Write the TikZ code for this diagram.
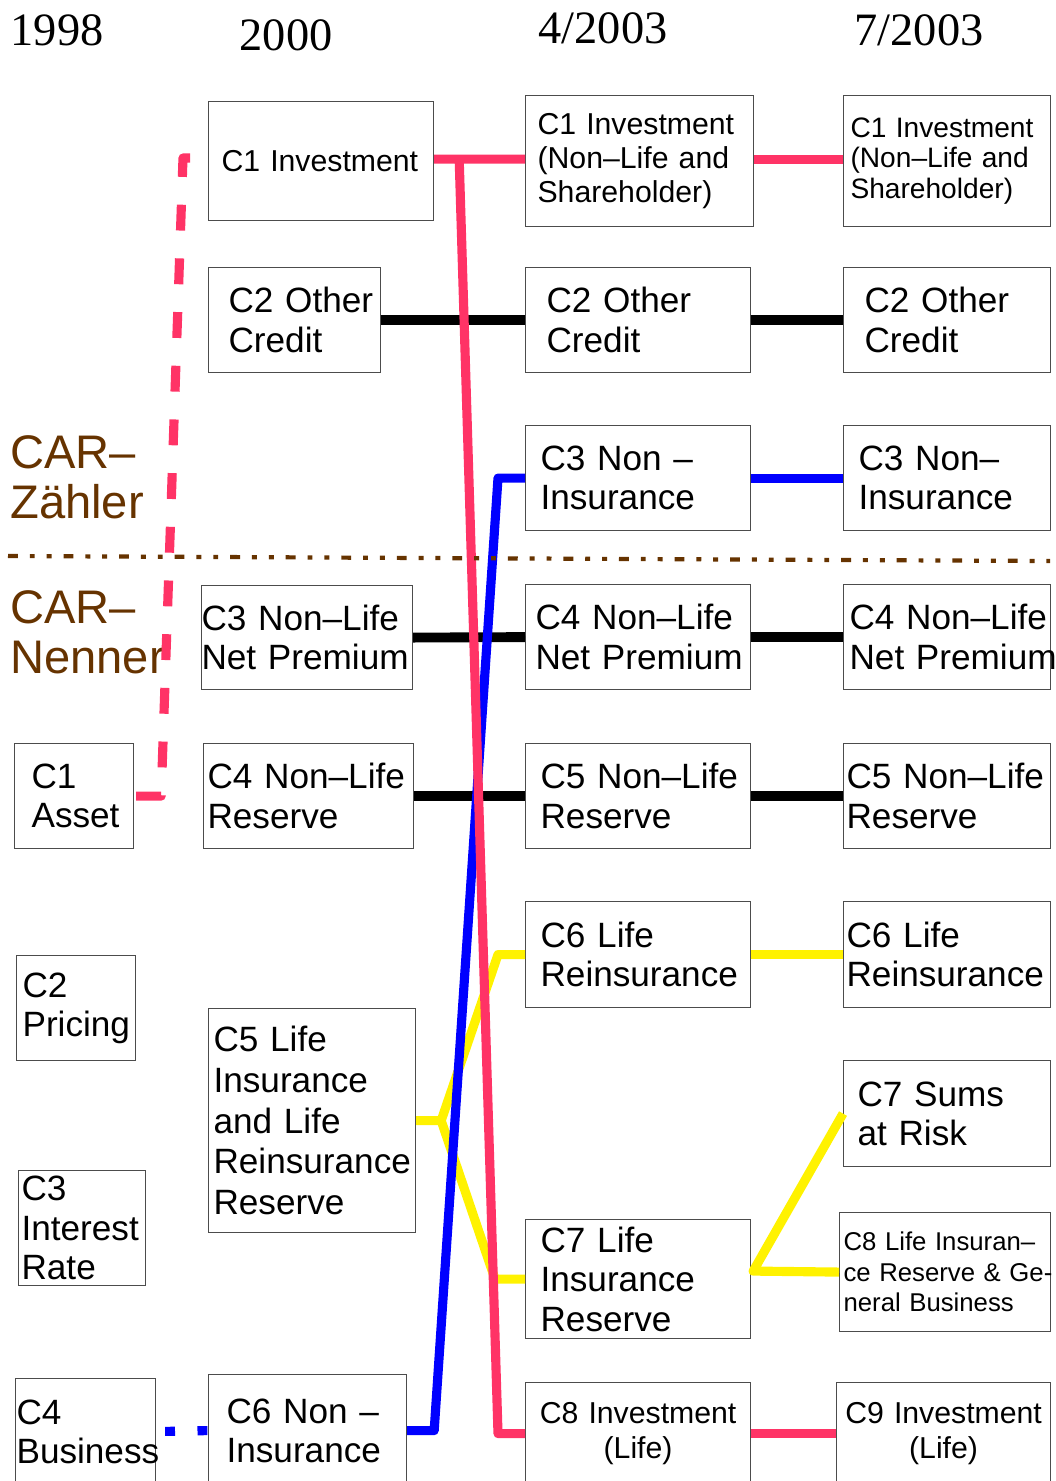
\documentclass[tikz,border=0pt]{standalone}
\usepackage{fontspec}
\setmainfont{Liberation Serif}
\setsansfont{Liberation Sans}
\usepackage{xcolor}
\usepackage{tikz}
\usetikzlibrary{calc}
\definecolor{carpink}{HTML}{FF3366}
\definecolor{carbrown}{HTML}{663300}

\begin{document}
\begin{tikzpicture}[x=0.025cm,y=-0.025cm,
	box/.style={draw=black!70,line width=0.8pt,anchor=north west,inner sep=0pt,align=left,
		execute at begin node={\hyphenpenalty=10000\exhyphenpenalty=10000}},
	bx/.style n args={3}{box,minimum width=#1cm,minimum height=#2cm,text width=#3cm},
	txtL/.style={font=\sffamily\fontsize{25}{28}\selectfont},
	txtM/.style={font=\sffamily\fontsize{21.5}{24}\selectfont},
	txtS/.style={font=\sffamily\fontsize{20}{22}\selectfont},
	yr/.style={font=\rmfamily\fontsize{33}{36}\selectfont,anchor=base,inner sep=0pt},
	car/.style={font=\sffamily\fontsize{33.5}{36}\selectfont,text=carbrown,anchor=north west,inner sep=0pt,align=left},
	blk/.style={line width=7pt,black},
	ylw/.style={line width=6.5pt,yellow,line join=round},
	blu/.style={line width=6.5pt,blue,line join=round},
	pnk/.style={line width=6.5pt,carpink,line join=round}]
	\useasboundingbox (0,0) rectangle (1056,1481);
	
	\node[yr] (y1998) at (57,45) {1998};
	\node[yr] (y2000) at (286,50) {2000};
	\node[yr] (y2003a) at (603,43) {4/2003};
	\node[yr] (y2003b) at (919,45) {7/2003};
	
	\node[car] (zaehler) at (10,435) {CAR--\\Zähler};
	\node[car] (nenner) at (10,590) {CAR--\\Nenner};
	
	\node[bx={2.975}{2.625}{2.125},txtL] (asset) at (14,743) {C1\\Asset};
	\node[bx={2.975}{2.625}{2.675},txtL] (pricing) at (16,955) {C2\\Pricing};
	\node[bx={3.175}{2.875}{3.025},txtL] (interest) at (18,1170) {C3\\Interest\\Rate};
	\node[bx={3.5}{2.65}{3.45},txtL] (business) at (15,1378) {C4\\Business};
	
	\node[bx={5.625}{2.975}{4.975},txtM] (inv1) at (208,101) {C1~Investment};
	\node[bx={4.3}{2.625}{3.3},txtL] (oc1) at (208,267) {C2~Other\\Credit};
	\node[bx={5.275}{2.6}{5.275},txtL] (nlnp1) at (201,585) {C3~Non--Life\\Net~Premium};
	\node[bx={5.25}{2.625}{5.05},txtL] (nlr1) at (203,743) {C4~Non--Life\\Reserve};
	\node[bx={5.175}{5.6}{4.925},font=\sffamily\fontsize{25}{29}\selectfont] (lifer1) at (208,1008) {C5~Life\\Insurance\\and~Life\\Reinsurance\\Reserve};
	\node[bx={4.95}{2.8}{4.05},txtL] (ni1) at (208,1374) {C6~Non~--\\Insurance};
	
	\node[bx={5.7}{3.275}{5.1},txtM] (inv2) at (525,95) {C1~Investment\\(Non--Life~and\\Shareholder)};
	\node[bx={5.625}{2.625}{4.575},txtL] (oc2) at (525,267) {C2~Other\\Credit};
	\node[bx={5.625}{2.625}{4.875},txtL] (ni2) at (525,425) {C3~Non~--\\Insurance};
	\node[bx={5.625}{2.625}{5.125},txtL] (nlnp2) at (525,584) {C4~Non--Life\\Net~Premium};
	\node[bx={5.625}{2.625}{4.875},txtL] (nlr2) at (525,743) {C5~Non--Life\\Reserve};
	\node[bx={5.625}{2.65}{4.875},txtL] (lre2) at (525,901) {C6~Life\\Reinsurance};
	\node[bx={5.625}{2.975}{4.875},txtL] (lir2) at (525,1219) {C7~Life\\Insurance\\Reserve};
	\node[bx={5.625}{2.55}{5.625},align=center,font=\sffamily\fontsize{21.5}{25.5}\selectfont] (inv3) at (525,1382) {C8~Investment\\(Life)};
	
	\node[bx={5.175}{3.275}{4.825},txtS] (inv4) at (843,95) {C1~Investment\\(Non--Life~and\\Shareholder)};
	\node[bx={5.175}{2.625}{4.125},txtL] (oc3) at (843,267) {C2~Other\\Credit};
	\node[bx={5.175}{2.625}{4.425},txtL] (ni3) at (843,425) {C3~Non--\\Insurance};
	\node[bx={5.175}{2.625}{4.875},txtL] (nlnp3) at (843,584) {C4~Non--Life\\Net~Premium};
	\node[bx={5.175}{2.625}{5.025},txtL] (nlr3) at (843,743) {C5~Non--Life\\Reserve};
	\node[bx={5.175}{2.65}{5.025},txtL] (lre3) at (843,901) {C6~Life\\Reinsurance};
	\node[bx={5.175}{2.65}{4.475},txtL] (sar) at (843,1060) {C7~Sums\\at~Risk};
	\node[bx={5.275}{2.975}{5.075},font=\sffamily\fontsize{18.3}{21.6}\selectfont] (lirgb) at (839,1212) {C8~Life~Insuran--\\ce~Reserve~\&~Ge-\\neral~Business};
	\node[bx={5.35}{2.55}{5.35},align=center,font=\sffamily\fontsize{21.5}{25.5}\selectfont] (inv5) at (836,1382) {C9~Investment\\(Life)};
	
	\draw[blk] (oc1.east) -- (oc2.west);
	\draw[blk] (oc2.east) -- (oc3.west);
	\draw[blk] (nlnp1.east) -- (nlnp2.west);
	\draw[blk] (nlnp2.east) -- (nlnp3.west);
	\draw[blk] (nlr1.east) -- (nlr2.west);
	\draw[blk] (nlr2.east) -- (nlr3.west);
	
	\coordinate (yl) at ($(lifer1.east)+(25,0)$);
	\draw[ylw] (lifer1.east) -- (yl) -- ($(lre2.west)+(-27,0)$) -- (lre2.west);
	\draw[ylw] (yl) -- ($(lir2.west)+(-30,0)$) -- (lir2.west);
	\draw[ylw] (lre2.east) -- (lre3.west);
	\coordinate (yr) at ($(lir2.east)+(2,-8)$);
	\draw[ylw] (sar.west) -- (yr) -- (lirgb.west);
	
	\draw[blu,dash pattern=on 7pt off 16pt,dash phase=16.6pt] (business.east) -- (ni1.west);
	\draw[blu] (ni1.east) -- ++(27,0) -- ($(ni2.west)+(-27,0)$) -- (ni2.west);
	\draw[blu] (ni2.east) -- (ni3.west);
	
	\coordinate (pj) at ($(inv1.east)+(25,-2)$);
	\draw[pnk] (inv1.east) ++(0,-2) -- ($(inv2.west)+(0,-2)$);
	\draw[pnk] (pj) -- ($(inv3.west)+(-27,0)$) -- (inv3.west);
	\draw[pnk] (inv2.east) ++(0,-2) -- ($(inv4.west)+(0,-2)$);
	\draw[pnk] (inv3.east) -- (inv5.west);
	\coordinate (pe) at (190,158);
	\draw[pnk,dash pattern=on 18.4pt off 19.8pt] (pe) -- ++(-7,0) -- ($(asset.east)+(27,0)$) -- (asset.east);
	
	\draw[carbrown,line width=3pt,dash pattern=on 7pt off 8.5pt on 3.5pt off 8.5pt on 3.5pt off 8.5pt] (8,556) -- (1050,561);
\end{tikzpicture}
\end{document}
